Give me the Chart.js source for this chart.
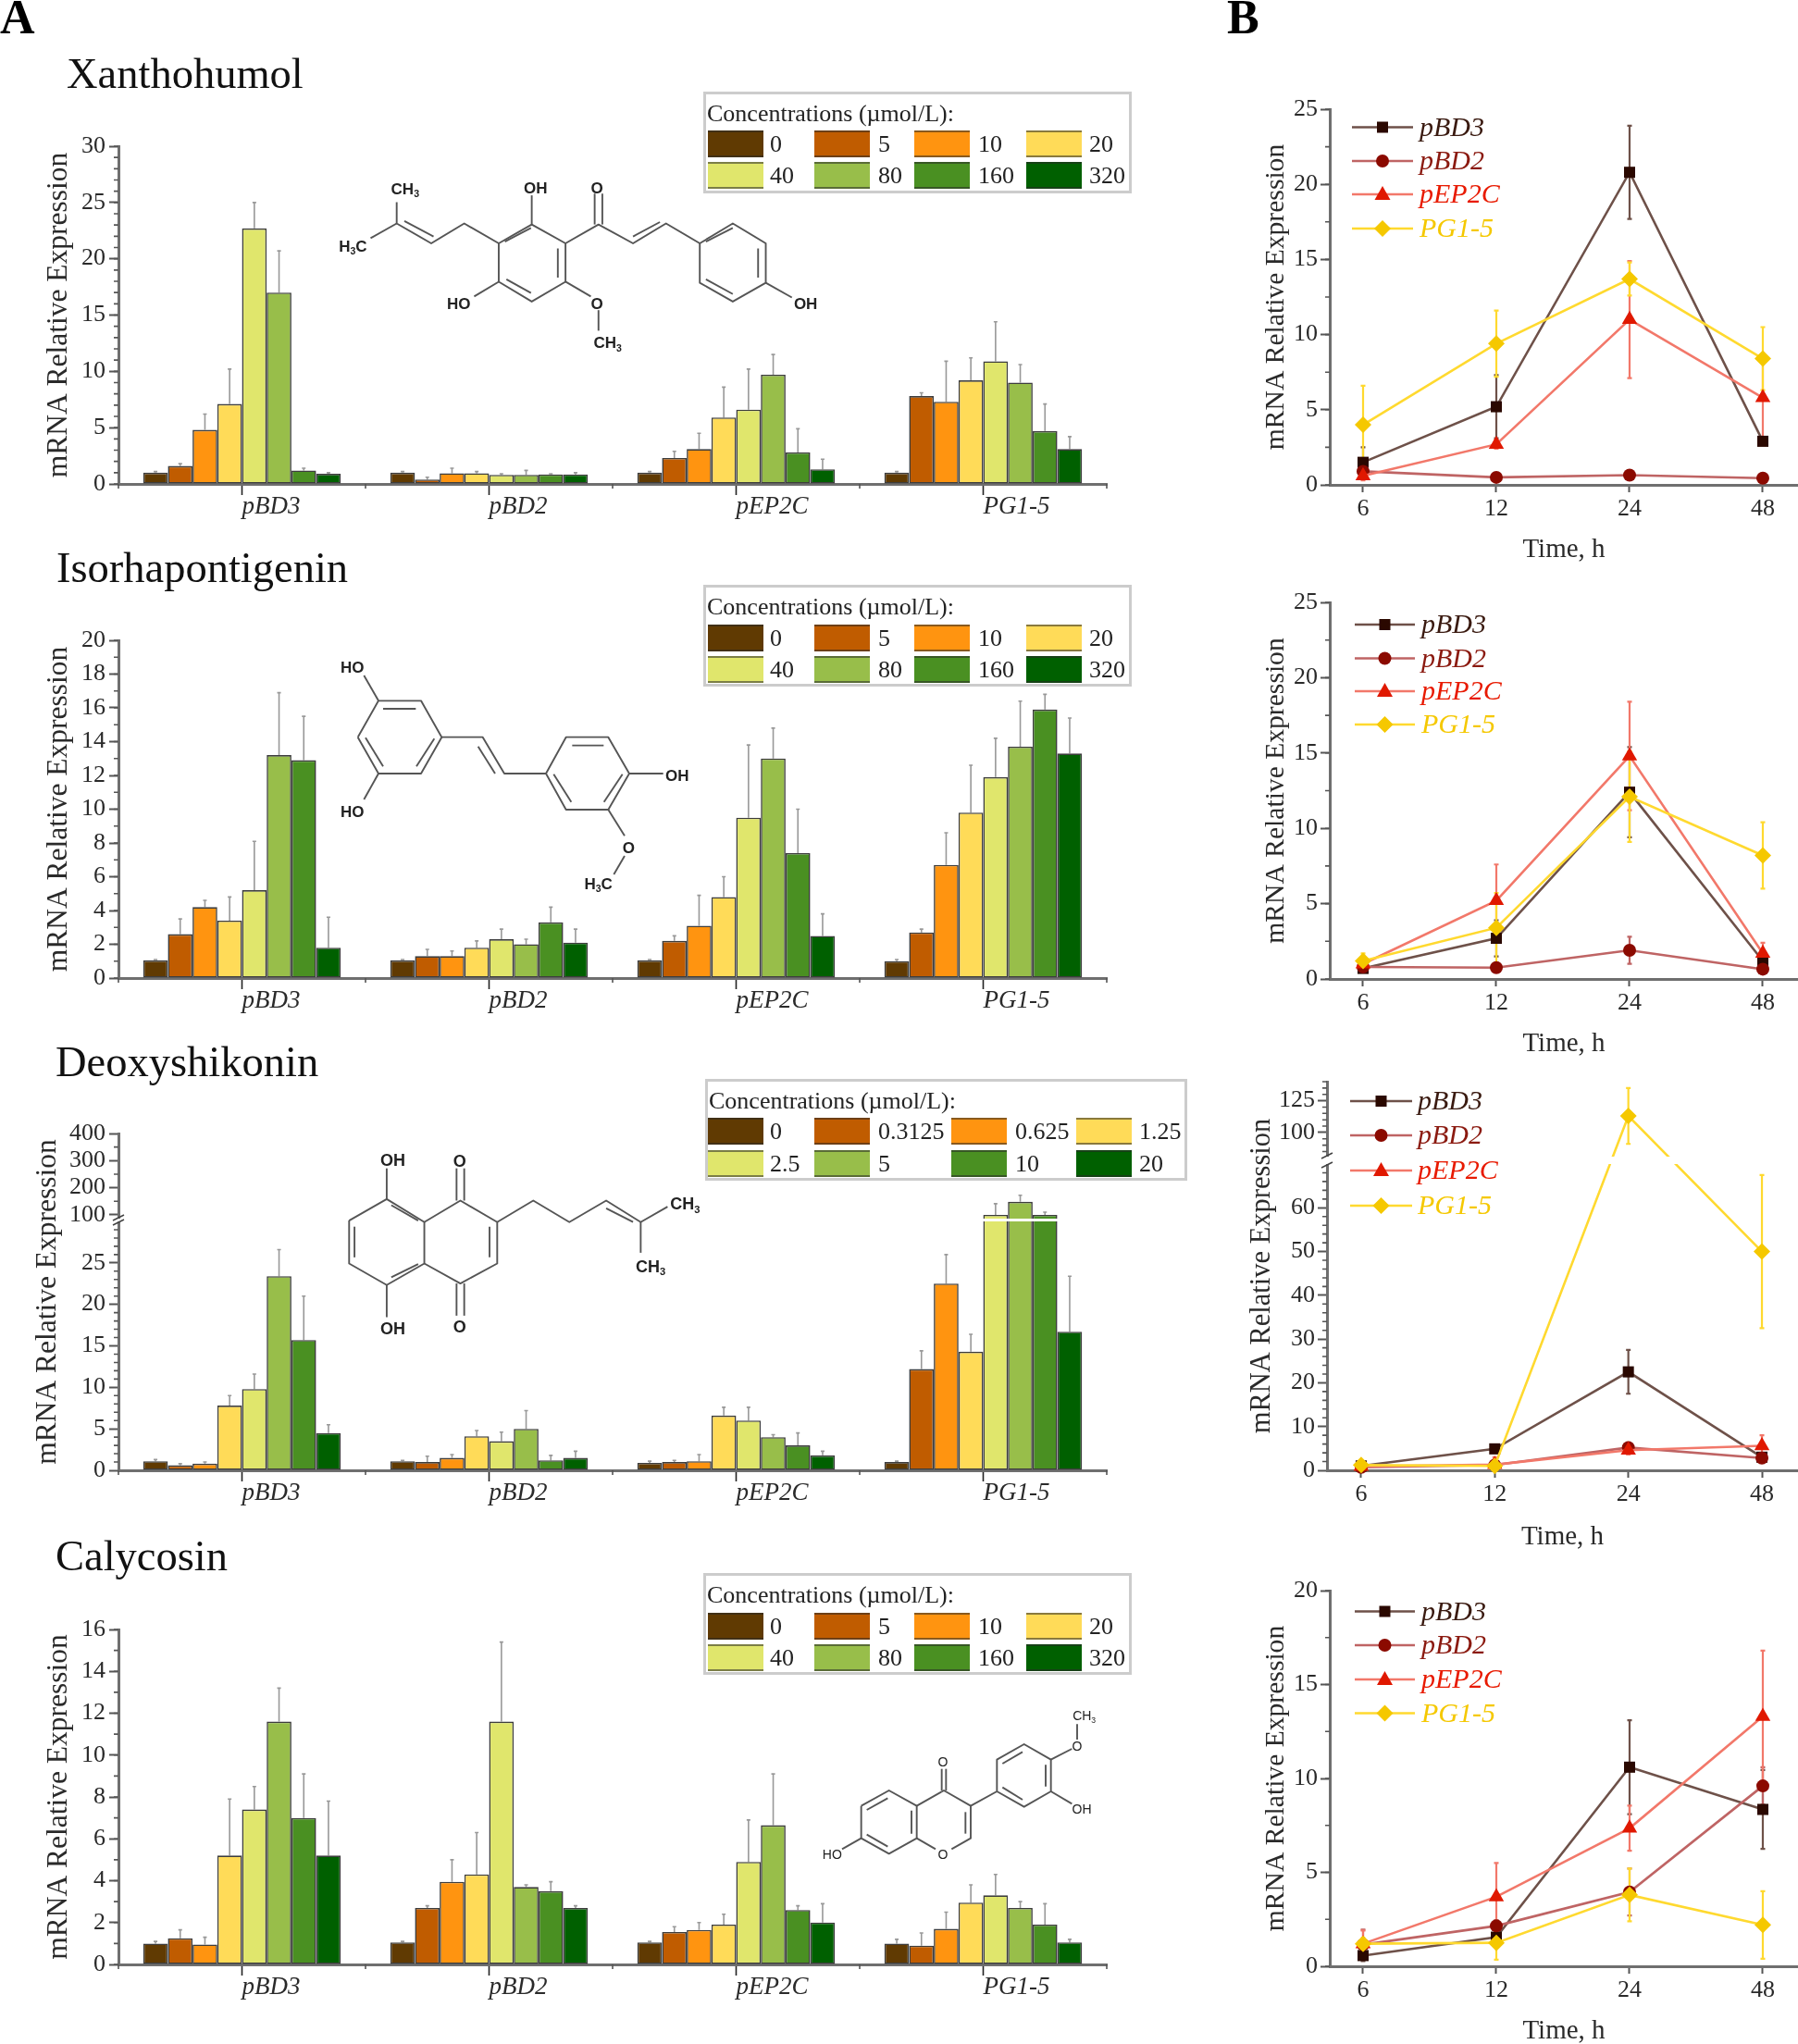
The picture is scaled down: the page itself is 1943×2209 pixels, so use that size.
<!DOCTYPE html>
<html><head><meta charset="utf-8">
<style>
html,body{margin:0;padding:0;background:#fff;width:1943px;height:2209px;overflow:hidden}
canvas{position:absolute}
#ov{position:absolute;left:0;top:0;pointer-events:none}
</style>
<script src="https://cdn.jsdelivr.net/npm/chart.js@4/dist/chart.umd.js"></script>
</head><body>
<svg id="ov" width="1943" height="2209" xmlns="http://www.w3.org/2000/svg"></svg>
<script>
const genes = ['pBD3','pBD2','pEP2C','PG1-5'];
const times = ['6','12','24','48'];
const concStd = ['0','5','10','20','40','80','160','320'];
const concDeo = ['0','0.3125','0.625','1.25','2.5','5','10','20'];
const barColors = ['#603a02','#c05c00','#ff9410','#ffdb58','#e0e66c','#98be4a','#4a9022','#006000'];

// Panel A: bar heights and upper error-bar ends, one row per gene
const xanVal = [[1.0,1.6,4.8,7.1,22.7,17.0,1.2,0.9],[1.0,0.4,0.95,0.95,0.8,0.8,0.85,0.85],[1.0,2.3,3.1,5.9,6.6,9.7,2.8,1.3],[1.0,7.8,7.3,9.2,10.9,9.0,4.7,3.1]];
const xanTop = [[1.1,1.8,6.2,10.2,25.0,20.7,1.4,1.0],[1.1,0.6,1.4,1.1,0.9,1.2,0.9,1.0],[1.1,2.9,4.5,8.6,10.2,11.5,4.9,2.2],[1.1,8.1,10.9,11.2,14.4,10.6,7.1,4.2]];
const isoVal = [[1.05,2.6,4.2,3.4,5.2,13.2,12.9,1.8],[1.05,1.3,1.3,1.8,2.3,2.0,3.3,2.1],[1.05,2.2,3.1,4.8,9.5,13.0,7.4,2.5],[1.0,2.7,6.7,9.8,11.9,13.7,15.9,13.3]];
const isoTop = [[1.1,3.5,4.6,4.8,8.1,16.9,15.5,3.6],[1.1,1.7,1.6,2.2,2.9,2.3,4.2,2.9],[1.1,2.5,4.9,6.0,13.8,14.8,10.0,3.8],[1.1,2.9,8.6,12.6,14.2,16.4,16.8,15.4]];
const deoVal = [[1.1,0.6,0.8,7.8,9.8,23.4,15.7,4.5],[1.1,1.0,1.5,4.1,3.5,5.0,1.2,1.5],[0.9,1.0,1.1,6.6,6.0,4.0,3.0,1.8],[1.0,12.2,22.5,14.3,100,148,100,16.7]];
const deoTop = [[1.3,0.8,1.0,9.0,11.6,26.6,21.0,5.5],[1.2,1.7,1.9,4.8,4.6,7.2,1.8,2.3],[1.1,1.2,1.9,7.6,7.6,4.3,4.5,2.3],[1.1,14.4,26.0,16.4,141,172,110,23.4]];
const calVal = [[1.0,1.25,0.95,5.2,7.4,11.6,7.0,5.2],[1.05,2.7,3.95,4.3,11.6,3.7,3.5,2.7],[1.05,1.55,1.65,1.9,4.9,6.65,2.6,2.0],[1.0,0.9,1.7,2.95,3.3,2.7,1.9,1.05]];
const calTop = [[1.1,1.65,1.3,7.9,8.5,13.2,9.1,7.8],[1.1,2.8,5.0,6.3,15.4,3.8,3.95,2.8],[1.1,1.8,2.0,2.4,6.9,9.1,2.8,2.9],[1.2,1.5,2.5,3.8,4.3,3.0,2.9,1.2]];

// Panel B: means and +/- errors, one row per gene
const tXanVal = [[1.5,5.2,20.8,2.9],[0.9,0.5,0.65,0.45],[0.6,2.7,11.0,5.8],[4.0,9.4,13.7,8.4]];
const tXanErr = [[1.0,2.1,3.1,0.2],[0.1,0.1,0.1,0.1],[0.3,0.3,3.9,2.7],[2.6,2.2,1.1,2.1]];
const tIsoVal = [[0.7,2.7,12.4,1.2],[0.8,0.75,1.9,0.65],[1.0,5.2,14.8,1.7],[1.2,3.4,12.1,8.2]];
const tIsoErr = [[0.2,1.2,3.0,0.4],[0.2,0.2,0.9,0.2],[0.3,2.4,3.6,0.7],[0.5,2.3,3.0,2.2]];
const tDeoVal = [[1.0,4.9,22.5,3.0],[0.7,1.2,5.2,2.8],[0.9,1.3,4.6,5.6],[1.2,1.0,113,50]];
const tDeoErr = [[0.2,0.5,5.0,1.0],[0.2,0.4,1.2,0.6],[0.2,1.7,1.0,2.4],[0.5,0.5,22,17.5]];
const tCalVal = [[0.57,1.55,10.6,8.35],[1.15,2.15,3.95,9.6],[1.2,3.7,7.35,13.3],[1.2,1.25,3.8,2.2]];
const tCalErr = [[0.3,0.5,2.5,2.1],[0.8,0.3,1.25,1.0],[0.7,1.8,1.2,3.5],[0.3,0.9,1.4,1.8]];

const lineCols = ['#6e5149','#bf6464','#f2786a','#ffd92f'];
const markCols = ['#2a0800','#8b0a00','#e01800','#f5c800'];
const markStyle = ['rect','circle','triangle','rectRot'];
const markSize = [8.5,7,9.5,9];
const textCols = ['#3a1a10','#8b1a10','#e81a00','#f5c800'];

const FONT = '"Liberation Serif","Times New Roman",serif';
const AXC = '#6f6f6f', TXT = '#2a2a2a';
Chart.defaults.font.family = FONT;
Chart.defaults.animation = false;
Chart.defaults.responsive = false;
Chart.defaults.plugins.legend.display = false;
Chart.defaults.plugins.tooltip.enabled = false;

// Y scale with a broken axis: two linear pieces and a gap between them
class BrokenScale extends Chart.LinearScale {
  buildTicks(){
    const b = this.options.brk;
    this.min = b.min; this.max = b.max;
    return b.major.map(v => ({value:v}));
  }
  getPixelForValue(v){
    const b = this.options.brk;
    const f = v <= b.lowMax ? (v - b.min)/(b.lowMax - b.min)*b.f1
                            : b.f2 + (v - b.highMin)/(b.max - b.highMin)*(1 - b.f2);
    return this.bottom - f*(this.bottom - this.top);
  }
  getValueForPixel(p){
    const b = this.options.brk, f = (this.bottom - p)/(this.bottom - this.top);
    return f <= b.f1 ? b.min + f/b.f1*(b.lowMax-b.min) : b.highMin + (f-b.f2)/(1-b.f2)*(b.max-b.highMin);
  }
}
BrokenScale.id = 'broken';
BrokenScale.defaults = Chart.LinearScale.defaults;
Chart.register(BrokenScale);

function mkBreak(min,max,lowMax,highMin,yLow,yHigh,box,major,minor){
  const h = box.b - box.t;
  return {min,max,lowMax,highMin,f1:(box.b-yLow)/h,f2:(box.b-yHigh)/h,major,minor};
}

const decor = cfg => ({
  id:'decor',
  beforeDatasetsDraw(chart){
    const c = chart.ctx, y = chart.scales.y, x = chart.scales.x;
    // minor ticks on the value axis
    c.save(); c.strokeStyle = '#555'; c.lineWidth = 1.6; c.beginPath();
    cfg.minor.forEach(v => { const p = y.getPixelForValue(v); c.moveTo(y.right-5,p); c.lineTo(y.right,p); });
    if(cfg.boundary){
      for(let i=0;i<=genes.length;i++){
        const p = x.left + i*x.width/genes.length;
        c.moveTo(p,x.top); c.lineTo(p,x.top+5);
      }
    }
    c.stroke(); c.restore();
    // error bars
    chart.data.datasets.forEach((ds,i) => {
      const meta = chart.getDatasetMeta(i);
      meta.data.forEach((el,j) => {
        let hi, lo;
        if(ds.tops){ hi = ds.tops[j]; lo = ds.data[j]; }
        else { hi = ds.data[j].y + ds.errs[j]; lo = ds.data[j].y - ds.errs[j]; }
        const ph = y.getPixelForValue(hi), pl = y.getPixelForValue(Math.max(lo,0));
        c.save();
        c.strokeStyle = ds.tops ? '#999' : lineCols[i];
        c.lineWidth = ds.tops ? 1.6 : 2.2;
        c.beginPath();
        c.moveTo(el.x,ph); c.lineTo(el.x,pl);
        const cw = ds.tops ? 2 : 2.5;
        c.moveTo(el.x-cw,ph); c.lineTo(el.x+cw,ph);
        if(!ds.tops){ c.moveTo(el.x-cw,pl); c.lineTo(el.x+cw,pl); }
        c.stroke(); c.restore();
      });
    });
  },
  afterDatasetsDraw(chart){
    const b = cfg.brk; if(!b) return;
    const c = chart.ctx, y = chart.scales.y, a = chart.chartArea;
    const pLow = y.getPixelForValue(b.lowMax), pHigh = y.getPixelForValue(b.highMin);
    c.save();
    c.fillStyle = '#fff';
    c.fillRect(a.left-3,pHigh,a.right-a.left+3,pLow-pHigh);
    c.strokeStyle = '#444'; c.lineWidth = 1.6;
    c.beginPath();
    [pHigh-1,pLow+1].forEach(p => { c.moveTo(a.left-6,p+3); c.lineTo(a.left+6,p-3); });
    c.stroke(); c.restore();
  }
});

function place(cv, c){ cv.width=c.r-c.l; cv.height=c.b-c.t; cv.style.left=c.l+'px'; cv.style.top=c.t+'px'; document.body.insertBefore(cv, document.getElementById('ov')); }

function yAxis(p, titleSize, titleX, canvasL, tickSize, pad){
  const lh = titleSize*1.2;
  const o = {
    position:'left',
    min:p.brk?p.brk.min:0, max:p.brk?p.brk.max:p.max,
    border:{display:true,color:AXC,width:3},
    grid:{drawOnChartArea:false,drawTicks:true,tickLength:10,tickColor:'#555',tickWidth:2},
    ticks:{font:{size:tickSize},color:TXT,padding:pad,autoSkip:false,maxRotation:0,callback:v=>String(v)},
    title:{display:true,text:'mRNA Relative Expression',font:{size:titleSize},color:TXT,padding:{top:titleX-canvasL-lh/2,bottom:0}},
    afterFit(s){ s.width = p.box.l-canvasL; }
  };
  if(p.brk){ o.type='broken'; o.brk=p.brk; }
  else { o.type='linear'; o.ticks.stepSize=p.step; }
  return o;
}

function minorList(p){
  if(p.brk) return p.brk.minor;
  const out=[];
  for(let k=0;k*p.minorStep<=p.max;k++) out.push(k*p.minorStep);
  return out;
}

function barChart(p){
  const c = {l:0,t:p.box.t-30,r:p.box.r+30,b:p.box.b+50};
  const cv = document.createElement('canvas'); place(cv,c);
  const datasets = barColors.map((col,i)=>({
    label:p.conc[i],
    data:genes.map((g,j)=>p.val[j][i]),
    tops:genes.map((g,j)=>p.top[j][i]),
    backgroundColor:col,borderColor:'rgba(40,40,40,.9)',borderWidth:1.6,borderSkipped:false,
    categoryPercentage:.8,barPercentage:1
  }));
  new Chart(cv,{type:'bar',data:{labels:genes,datasets},
    options:{
      layout:{padding:{top:p.box.t-c.t,right:c.r-p.box.r,bottom:0,left:0}},
      scales:{
        x:{type:'category',offset:true,
           border:{display:true,color:AXC,width:3},
           grid:{offset:false,drawOnChartArea:false,drawTicks:true,tickLength:12,tickColor:'#222',tickWidth:1.6},
           ticks:{font:{size:27,style:'italic'},color:TXT,padding:-3,align:'start',labelOffset:0,maxRotation:0,autoSkip:false},
           afterFit(s){ s.height = c.b-p.box.b; s.paddingLeft=0; s.paddingRight=0; }},
        y:yAxis(p,31.5,p.titleX,0,26,4)
      }},
    plugins:[decor({minor:minorList(p),boundary:true,brk:p.brk})]
  });
}

function lineChart(p){
  // the canvas runs a little past the window so the x axis reaches the picture's right edge
  const c = {l:1330,t:p.box.t-30,r:p.box.r+14,b:p.box.b+96};
  const cv = document.createElement('canvas'); place(cv,c);
  const datasets = genes.map((g,i)=>({
    label:g,order:genes.length-i,
    data:times.map((t,j)=>({x:j,y:p.val[i][j]})),
    errs:p.err[i],
    borderColor:lineCols[i],borderWidth:2.6,tension:0,
    pointStyle:markStyle[i],pointRadius:markSize[i],pointBackgroundColor:markCols[i],pointBorderColor:markCols[i],pointBorderWidth:0,
    clip:false
  }));
  const lh = 29*1.2;
  new Chart(cv,{type:'line',data:{datasets},
    options:{
      layout:{padding:{top:p.box.t-c.t,right:c.r-p.box.r,bottom:0,left:0}},
      scales:{
        x:{type:'linear',min:p.xMin,max:p.xMax,
           border:{display:true,color:AXC,width:3},
           grid:{drawOnChartArea:false,drawTicks:true,tickLength:8,tickColor:'#555',tickWidth:2},
           ticks:{stepSize:1,includeBounds:false,font:{size:26},color:TXT,padding:3,maxRotation:0,autoSkip:false,
                  callback:v=>times[v]!==undefined?times[v]:''},
           title:{display:true,text:'Time, h',font:{size:29},color:TXT,padding:{top:0,bottom:c.b-p.timeY-lh/2}},
           afterFit(s){ s.height = c.b-p.box.b; s.paddingLeft=0; s.paddingRight=0; }},
        y:yAxis(p,p.titleSize,p.titleX,c.l,26,3)
      }},
    plugins:[decor({minor:minorList(p),boundary:false,brk:p.brk})]
  });
}

// ---- bars ----
const b3 = {l:128,r:1196,t:1225,b:1589};
barChart({box:{l:128,r:1196,t:158,b:523},max:30,step:5,minorStep:1,val:xanVal,top:xanTop,conc:concStd,titleX:64});
barChart({box:{l:128,r:1196,t:692,b:1057},max:20,step:2,minorStep:1,val:isoVal,top:isoTop,conc:concStd,titleX:64});
barChart({box:b3,val:deoVal,top:deoTop,conc:concDeo,titleX:52,
  brk:mkBreak(0,400,30,86,1320,1317,b3,[0,5,10,15,20,25,100,200,300,400],
    [1,2,3,4,6,7,8,9,11,12,13,14,16,17,18,19,21,22,23,24,26,27,28,29,150,250,350])});
barChart({box:{l:128,r:1196,t:1761,b:2123},max:16,step:2,minorStep:1,val:calVal,top:calTop,conc:concStd,titleX:64});

// ---- lines ----
const b7 = {l:1434,r:1943,t:1169,b:1589};
lineChart({box:{l:1437,r:1943,t:118,b:524.5},max:25,step:5,minorStep:2.5,val:tXanVal,err:tXanErr,xMin:-.25,xMax:3.264,titleX:1379,titleSize:29.6,timeY:595});
lineChart({box:{l:1437,r:1943,t:651,b:1058},max:25,step:5,minorStep:2.5,val:tIsoVal,err:tIsoErr,xMin:-.25,xMax:3.264,titleX:1379,titleSize:29.6,timeY:1128});
lineChart({box:b7,val:tDeoVal,err:tDeoErr,xMin:-.256,xMax:3.27,titleX:1364,titleSize:30.5,timeY:1661,
  brk:mkBreak(0,140,70,81,1258,1250,b7,[0,10,20,30,40,50,60,100,125],
    [2,4,6,8,12,14,16,18,22,24,26,28,32,34,36,38,42,44,46,48,52,54,56,58,62,64,66,68,85,90,95,105,110,115,120,130,135,140])});
lineChart({box:{l:1437,r:1943,t:1719,b:2125},max:20,step:5,minorStep:2.5,val:tCalVal,err:tCalErr,xMin:-.25,xMax:3.264,titleX:1379,titleSize:29.6,timeY:2195});

// ---- overlay text, legends and structures ----
const ov = document.getElementById('ov');
function el(tag,attrs,txt){
  const e = document.createElementNS('http://www.w3.org/2000/svg',tag);
  for(const k in attrs) e.setAttribute(k,attrs[k]);
  if(txt!==undefined) e.textContent = txt;
  ov.appendChild(e); return e;
}
el('text',{x:0,y:36,'font-family':FONT,'font-size':52,'font-weight':'bold',fill:'#000'},'A');
el('text',{x:1326,y:36,'font-family':FONT,'font-size':52,'font-weight':'bold',fill:'#000'},'B');
[['Xanthohumol',72,95],['Isorhapontigenin',61,629],['Deoxyshikonin',60,1163],['Calycosin',60,1697]].forEach(t=>
  el('text',{x:t[1],y:t[2],'font-family':FONT,'font-size':46.5,fill:'#111'},t[0]));

function concLegend(l,t,w,h,sx,lx,r1,r2,rh,labels){
  el('rect',{x:l+1.5,y:t+1.5,width:w-3,height:h-3,fill:'#fff',stroke:'#ccc','stroke-width':3});
  el('text',{x:l+4,y:t+32,'font-family':FONT,'font-size':26,fill:'#222'},'Concentrations (µmol/L):');
  labels.forEach((lb,i)=>{
    const col=i%4, y=i<4?r1:r2;
    el('rect',{x:sx[col],y:y,width:60,height:rh,fill:barColors[i]});
    el('line',{x1:sx[col],x2:sx[col]+60,y1:y+1,y2:y+1,stroke:'rgba(40,40,40,.55)','stroke-width':2});
    el('line',{x1:sx[col],x2:sx[col]+60,y1:y+rh-1,y2:y+rh-1,stroke:'rgba(40,40,40,.55)','stroke-width':2});
    el('text',{x:lx[col],y:y+rh-6,'font-family':FONT,'font-size':26,fill:'#222'},lb);
  });
}
const sxStd=[765,880,988,1109], lxStd=[832,949,1057,1177];
concLegend(760,99,463,110,sxStd,lxStd,141,175,29,concStd);
concLegend(760,632,463,110,sxStd,lxStd,675,709,29,concStd);
concLegend(762,1166,521,110,[765,880,1028,1163],[832,949,1097,1231],1208,1243,29,concDeo);
concLegend(760,1700,463,110,sxStd,lxStd,1743,1777,29,concStd);

function lineLegend(x1,x2,tx,rows){
  genes.forEach((g,i)=>{
    const y=rows[i], m=(x1+x2)/2;
    el('line',{x1,x2,y1:y,y2:y,stroke:lineCols[i],'stroke-width':2.6});
    if(i===0) el('rect',{x:m-6,y:y-6,width:12,height:12,fill:markCols[i]});
    if(i===1) el('circle',{cx:m,cy:y,r:7,fill:markCols[i]});
    if(i===2) el('polygon',{points:`${m},${y-9} ${m+8.5},${y+6} ${m-8.5},${y+6}`,fill:markCols[i]});
    if(i===3) el('polygon',{points:`${m},${y-9} ${m+9},${y} ${m},${y+9} ${m-9},${y}`,fill:markCols[i]});
    el('text',{x:tx,y:y+9,'font-family':FONT,'font-size':30,'font-style':'italic',fill:textCols[i]},g);
  });
}
lineLegend(1461,1527,1534,[137.5,174,210,247]);
lineLegend(1464,1529,1536,[675,711.5,747,783]);
lineLegend(1459,1526,1532,[1190,1227,1265,1303]);
lineLegend(1464,1529,1536,[1741.5,1778,1815,1851.5]);

// Chemical structures (illustrations, not data)
function mol(ox,oy,sx,sy,polys,labels,fs,weight){
  polys.forEach(p=>{
    const pts=[]; for(let i=0;i<p.length;i+=2) pts.push((p[i]*sx+ox)+','+(p[i+1]*sy+oy));
    el('polyline',{points:pts.join(' '),fill:'none',stroke:'#555','stroke-width':1.9,'stroke-linejoin':'round'});
  });
  labels.forEach(l=>{
    const t = el('text',{x:l[0]*sx+ox,y:l[1]*sy+oy+fs*.36,'text-anchor':'middle','font-family':'"Liberation Sans",Arial,sans-serif','font-size':fs,'font-weight':weight,fill:'#222'});
    l[2].split(/(\d)/).forEach(part=>{
      if(!part) return;
      const ts = document.createElementNS('http://www.w3.org/2000/svg','tspan');
      ts.textContent = part;
      if(/\d/.test(part)){ ts.setAttribute('font-size',fs*.62); ts.setAttribute('dy',fs*.18); }
      else if(t.childNodes.length){ ts.setAttribute('dy',-fs*.18); }
      t.appendChild(ts);
    });
  });
}
mol(0,0,1/1.206,1/2.7,[
 [650,710,693,655,737,710,737,822,693,880,650,822,650,710],[658,705,692,665],[727,725,727,810],[660,815,692,855],
 [650,710,605,652,562,710,517,652,517,590],[517,652,483,695],[527,645,565,690],
 [737,710,780,655,825,710,868,652,912,710],[825,690,860,648],[775,655,775,565],[785,655,785,565],
 [693,655,693,570],[650,822,618,865],[737,822,770,865],[780,905,780,965],
 [912,710,955,652,998,710,998,825,955,880,912,825,912,710],[920,705,955,665],[988,725,988,810],[920,815,955,858],[998,825,1032,868]
],[[528,550,'CH3'],[698,548,'OH'],[778,548,'O'],[460,718,'H3C'],[598,885,'HO'],[778,885,'O'],[792,1000,'CH3'],[1050,885,'OH']],17,'bold');

mol(340,690,1/3,1/3,[
 [140,320,207,202,345,202,412,320,345,438,207,438,140,320],[222,228,328,228],[165,322,222,415],[388,325,330,415],
 [207,202,160,120],[207,438,160,522],
 [412,320,545,320,615,438,750,438],[530,350,585,438],
 [750,438,815,320,952,320,1020,438,952,555,815,555,750,438],[835,347,937,347],[775,440,832,530],[998,440,938,530],
 [1020,438,1130,438],[952,555,1005,640],[1005,705,970,765]
],[[122,92,'HO'],[122,560,'HO'],[1175,443,'OH'],[1018,678,'O'],[920,795,'H3C']],17,'bold');

mol(0,1130,1/1.206,1/3.015,[
 [455,570,504,500,553,575,553,710,504,780,455,710,455,570],[510,520,545,570],[462,590,462,690],[510,755,545,712],
 [553,575,600,505,648,575,648,710,600,775,553,710],[638,590,638,690],
 [595,505,595,400],[605,505,605,400],[595,775,595,880],[605,775,605,880],
 [504,500,504,400],[504,780,504,885],
 [648,575,695,505,742,575,790,505,835,575,870,525],[835,575,835,675],[790,530,825,575]
],[[512,372,'OH'],[599,375,'O'],[893,515,'CH3'],[848,718,'CH3'],[512,920,'OH'],[599,915,'O']],18,'bold');

mol(870,1830,1/3,1/3,[
 [182,365,272,315,362,365,362,470,272,520,182,470,182,365],[200,378,268,340],[345,380,345,455],[200,458,268,497],
 [362,365,450,315,537,365,537,470,475,505],[423,505,362,470],[520,385,520,455],
 [443,315,443,245],[457,315,457,245],
 [537,365,622,318,622,215,710,165,797,215,797,318,710,368,622,318],[640,228,705,190],[780,232,780,302],[640,305,705,345],
 [797,318,865,358],[797,215,865,180],[882,150,882,100],[182,470,120,505]
],[[447,522,'O'],[447,222,'O'],[897,375,'OH'],[882,172,'O'],[905,72,'CH3'],[88,522,'HO']],14,'normal');
</script>
</body></html>
